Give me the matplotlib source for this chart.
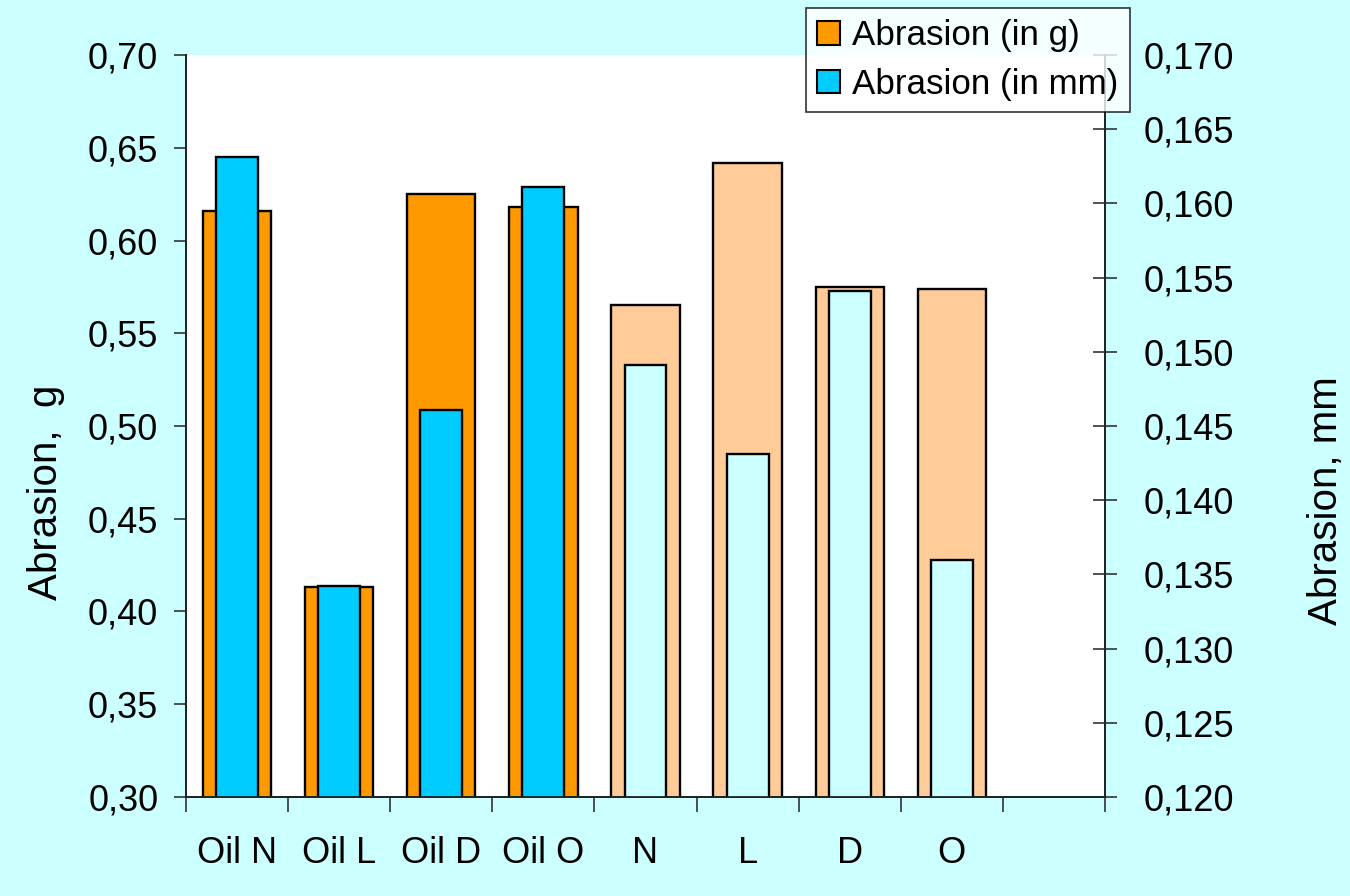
import matplotlib.pyplot as plt
import numpy as np
from matplotlib.patches import Patch
from matplotlib.ticker import FuncFormatter

plt.rcParams['font.family'] = ['Liberation Sans', 'DejaVu Sans']

categories = ['Oil N', 'Oil L', 'Oil D', 'Oil O', 'N', 'L', 'D', 'O']
abrasion_g = [0.616, 0.413, 0.625, 0.618, 0.565, 0.642, 0.575, 0.574]
abrasion_mm = [0.1631, 0.1342, 0.1461, 0.1611, 0.1491, 0.1431, 0.1541, 0.1360]

g_colors = ['#FF9900'] * 4 + ['#FFCC99'] * 4
mm_colors = ['#00CCFF'] * 4 + ['#CCFFFF'] * 4

bg = '#CCFFFF'
fig = plt.figure(figsize=(13.5, 8.96), dpi=100, facecolor=bg)
ax = fig.add_axes([0.1378, 0.1105, 0.6807, 0.8281])
ax2 = ax.twinx()

x = np.arange(len(categories))
ax.bar(x, abrasion_g, width=0.67, color=g_colors,
       edgecolor='black', linewidth=1.7, zorder=2)
ax2.bar(x, abrasion_mm, width=0.41, color=mm_colors,
        edgecolor='black', linewidth=1.7, zorder=2)

ax.set_xlim(-0.5, 8.5)
ax.set_ylim(0.30, 0.70)
ax2.set_ylim(0.120, 0.170)

ax.set_yticks(np.arange(0.30, 0.701, 0.05))
ax2.set_yticks(np.arange(0.120, 0.1701, 0.005))
ax.yaxis.set_major_formatter(FuncFormatter(lambda v, p: f'{v:.2f}'.replace('.', ',')))
ax2.yaxis.set_major_formatter(FuncFormatter(lambda v, p: f'{v:.3f}'.replace('.', ',')))

# category boundaries get the ticks, names sit between them
ax.set_xticks(np.arange(-0.5, 9.0, 1.0))
ax.set_xticklabels([])
ax.set_xticks(x, categories, minor=True)
ax.tick_params(axis='x', which='major', length=11, width=1.2, color='#333333')
ax.tick_params(axis='x', which='minor', length=0, pad=28, labelsize=26)
ax.tick_params(axis='y', length=9, width=1.2, pad=11, labelsize=26, color='#333333')
ax2.tick_params(axis='y', direction='inout', length=17, width=1.2, pad=19,
                labelsize=26, color='#333333')

for a in (ax, ax2):
    a.spines['top'].set_visible(False)
    for s in ('left', 'right', 'bottom'):
        a.spines[s].set_linewidth(1.3)
        a.spines[s].set_color('#222222')
ax2.patch.set_visible(False)
ax.set_facecolor('white')

fig.text(0.034, 0.450, 'Abrasion,  g', rotation=90, fontsize=29,
         ha='center', va='center')
fig.text(0.982, 0.441, 'Abrasion, mm', rotation=90, fontsize=29,
         ha='center', va='center')

handles = [Patch(facecolor='#FF9900', edgecolor='black', linewidth=1.5),
           Patch(facecolor='#00CCFF', edgecolor='black', linewidth=1.5)]
leg = fig.legend(handles, ['Abrasion (in g)', 'Abrasion (in mm)'],
                 loc='upper left', bbox_to_anchor=(0.597, 0.991),
                 fontsize=25.2, frameon=True, fancybox=False,
                 handlelength=0.65, handleheight=0.65, handletextpad=0.35,
                 borderpad=0.32, labelspacing=0.45, borderaxespad=0)
leg.get_frame().set_edgecolor('black')
leg.get_frame().set_linewidth(1.2)

fig.savefig('out.png', dpi=100, facecolor=bg)
